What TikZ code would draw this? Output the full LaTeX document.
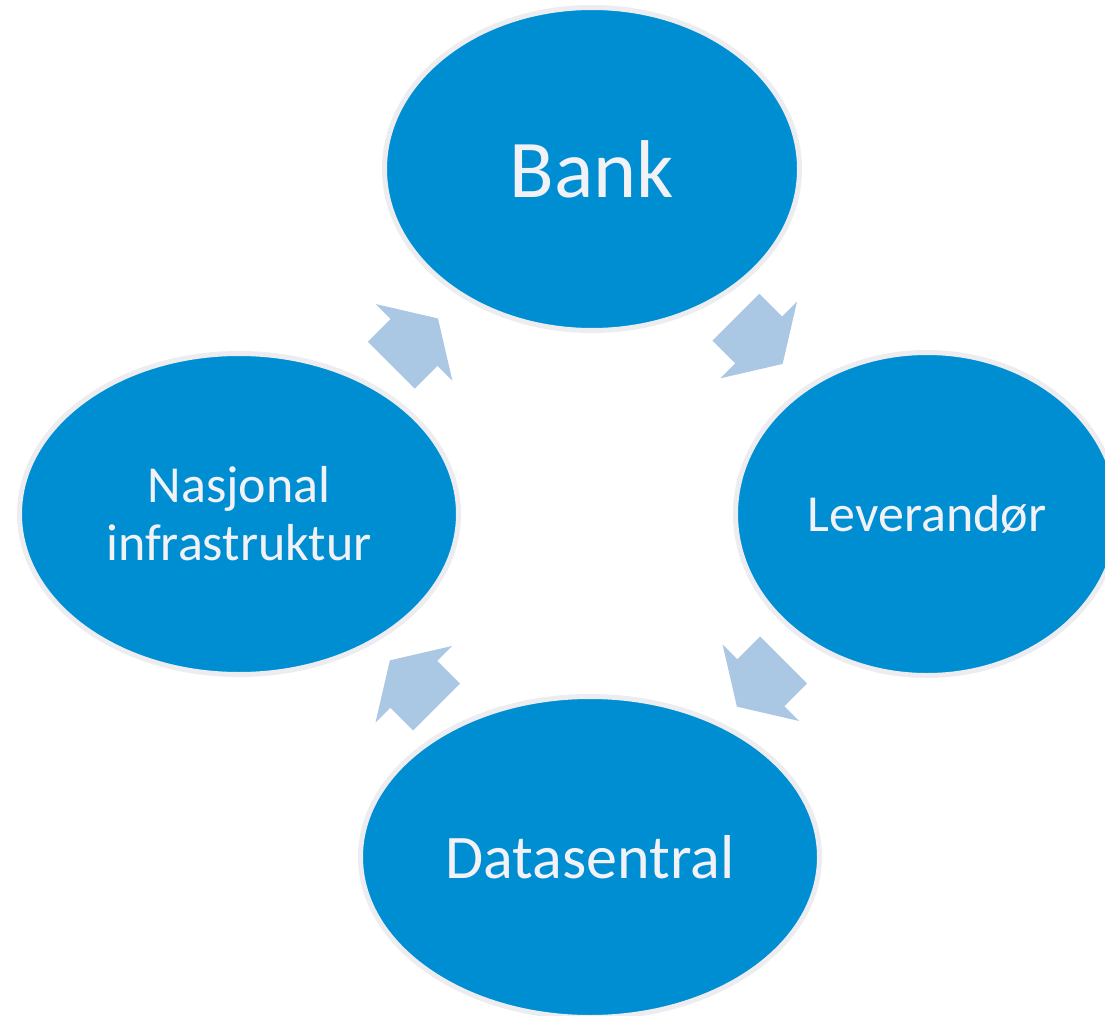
\documentclass[tikz,border=0pt]{standalone}
\usepackage{fontspec}
\setmainfont{Carlito}
\usepackage{tikz}
\usetikzlibrary{shapes.geometric, shapes.arrows, calc, positioning}
\definecolor{cycleblue}{RGB}{0,142,211}
\definecolor{cycleedge}{RGB}{236,236,241}
\definecolor{arrowblue}{RGB}{170,199,228}
\definecolor{labelwhite}{RGB}{242,242,246}

\begin{document}
\begin{tikzpicture}[x=1pt, y=-1pt,
    bubble/.style={ellipse, fill=cycleblue, draw=cycleedge, line width=5pt, inner sep=0pt, text=labelwhite, align=center},
    cyclearrow/.style={single arrow, fill=arrowblue, draw=none, inner xsep=0pt, inner ysep=33pt, minimum height=66pt, single arrow head extend=21pt, single arrow tip angle=116, anchor=tail}]
    \clip (0,0) rectangle (1105,1016);
    % the four parties
    \node[bubble, minimum width=415pt, minimum height=323pt, font=\fontsize{82}{98}\selectfont] (bank) at (592,169) {Bank};
    \node[bubble, minimum width=383pt, minimum height=323pt, font=\fontsize{52}{58}\selectfont] (lev) at (927,514) {Leverandør};
    \node[bubble, minimum width=459pt, minimum height=321pt, font=\fontsize{62}{72}\selectfont] (data) at (590,857) {Datasentral};
    \node[bubble, minimum width=439pt, minimum height=321pt, font=\fontsize{52}{58}\selectfont] (nasj) at (239,514) {Nasjonal\\infrastruktur};
    % cycle arrows, tail set back from the midpoint
    \node[cyclearrow, rotate=-45] (banklev) at ($(bank)!0.5!(lev)!34pt!(bank)$) {};
    \node[cyclearrow, rotate=-135] (levdata) at ($(lev)!0.5!(data)!36pt!(lev)$) {};
    \node[cyclearrow, rotate=135] (datanasj) at ($(data)!0.5!(nasj)!31pt!(data)$) {};
    \node[cyclearrow, rotate=45] (nasjbank) at ($(nasj)!0.5!(bank)!34pt!(nasj)$) {};
\end{tikzpicture}
\end{document}
